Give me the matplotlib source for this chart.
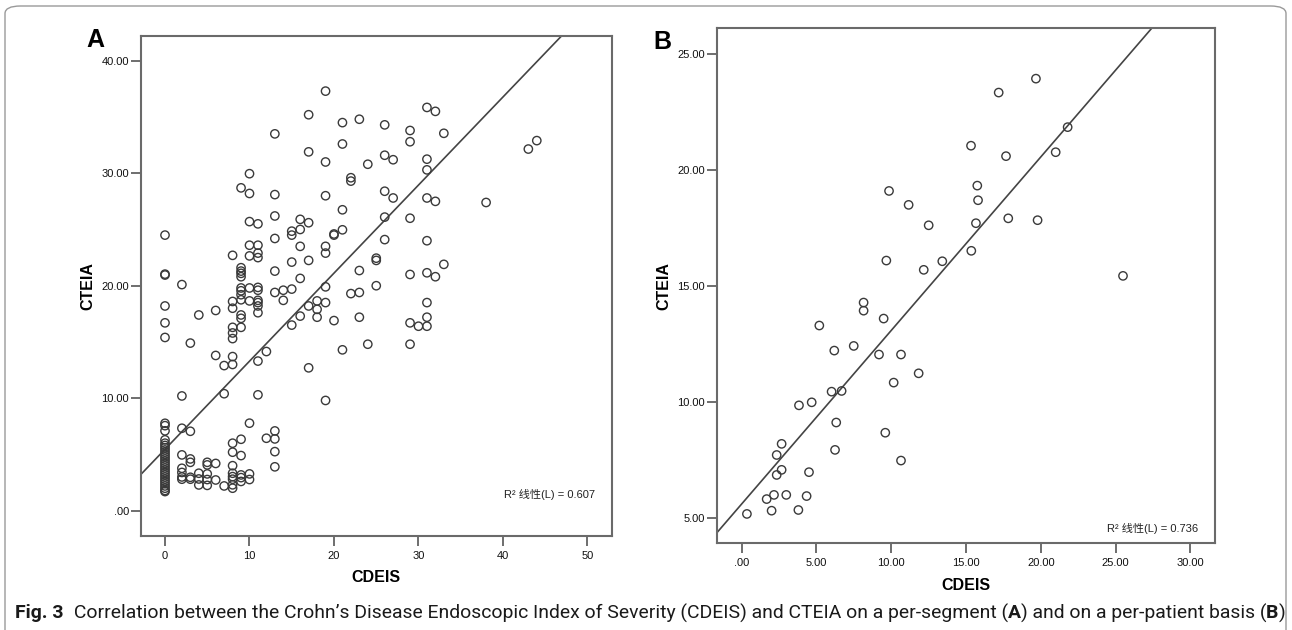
import matplotlib
matplotlib.use("Agg")
import matplotlib.pyplot as plt
import numpy as np
from matplotlib import font_manager
from matplotlib.patches import FancyBboxPatch
from matplotlib.ticker import FuncFormatter

# ---------------- Panel A data (per segment) ----------------
cdeis_a = [
    0, 19, 17, 21, 23, 26, 29, 29, 31, 32, 33, 13, 17, 21, 19, 24, 26, 27, 31, 31,
    10, 9, 10, 13, 19, 22, 22, 26, 27, 31, 32, 38, 43, 44, 21, 10, 11, 13, 16, 17,
    16, 15, 15, 20, 20, 21, 26, 29, 26, 31, 10, 11, 13, 16, 19,
    0, 0, 0, 0, 0, 2, 3, 4, 6, 6, 7, 7, 2, 8, 8, 8, 8, 8, 8, 8, 8,
    9, 9, 9, 9, 9, 9, 9, 9, 9, 9, 9, 10, 10, 10, 11, 11, 11, 11, 11, 11, 11, 11,
    11, 11, 12, 13, 13, 14, 14, 15, 15, 16, 15, 16, 17, 17, 17, 18, 18, 18,
    19, 19, 19, 19, 20, 21, 22, 23, 23, 23, 24, 25, 25, 25, 29, 29, 29, 30,
    31, 31, 31, 31, 32, 33,
    0, 0, 0, 0, 0, 0, 0, 0, 0, 0, 0, 0, 0, 0, 0, 0, 0, 0, 0, 0, 0, 0, 0, 0, 0, 0, 0,
    2, 3, 2, 3, 3, 2, 2, 2, 2, 3, 3, 4, 4, 4, 5, 5, 5, 5, 5, 6, 6, 7,
    8, 8, 8, 8, 8, 8, 8, 8, 9, 9, 9, 9, 9, 10, 10, 10, 12, 13, 13, 13, 13,
]
cteia_a = [
    24.5, 37.3, 35.2, 34.5, 34.8, 34.3, 33.8, 32.8, 35.85, 35.5, 33.55, 33.5, 31.9, 32.6, 31.0, 30.8, 31.6, 31.2, 31.25, 30.3,
    29.96, 28.7, 28.2, 28.1, 28.0, 29.6, 29.3, 28.4, 27.8, 27.8, 27.5, 27.4, 32.15, 32.9, 26.75, 25.7, 25.5, 26.2, 25.9, 25.6,
    25.0, 24.85, 24.5, 24.6, 24.5, 24.97, 26.1, 26.0, 24.1, 24.0, 23.6, 23.6, 24.2, 23.5, 23.5,
    21.03, 20.95, 18.2, 16.7, 15.4, 20.1, 14.9, 17.4, 17.8, 13.8, 12.9, 10.4, 10.2, 22.7, 18.6, 18.0, 16.3, 15.8, 15.3, 13.7, 13.0,
    21.6, 21.3, 21.1, 20.8, 19.8, 19.55, 19.2, 18.75, 17.4, 17.1, 16.3, 22.65, 19.8, 18.65, 22.9, 22.5, 19.85, 19.6, 18.7, 18.5, 18.2, 17.6,
    10.3, 13.3, 14.15, 21.3, 19.4, 18.7, 19.6, 19.7, 22.1, 20.65, 16.5, 17.3, 22.25, 18.2, 12.7, 18.65, 17.9, 17.2,
    22.9, 19.9, 18.5, 9.8, 16.9, 14.3, 19.3, 21.35, 19.4, 17.2, 14.8, 22.45, 22.25, 20.0, 21.0, 16.7, 14.8, 16.4,
    21.15, 18.5, 17.2, 16.4, 20.8, 21.9,
    7.77, 7.56, 7.1, 6.3, 6.0, 5.8, 5.6, 5.4, 5.2, 5.0, 4.8, 4.6, 4.4, 4.2, 4.0, 3.8, 3.6, 3.4, 3.2, 3.0, 2.8, 2.6, 2.4, 2.2, 2.0, 1.8, 1.7,
    7.33, 7.06, 4.96, 4.6, 4.3, 3.77, 3.4, 3.0, 2.8, 2.97, 2.8, 3.33, 2.82, 2.29, 4.3, 4.07, 3.27, 2.77, 2.25, 4.2, 2.73, 2.2,
    6.0, 5.2, 4.0, 3.33, 3.03, 2.8, 2.3, 2.0, 6.35, 4.9, 3.18, 2.94, 2.6, 7.78, 3.27, 2.77, 6.44, 7.09, 6.38, 5.25, 3.9,
]
fit_a_intercept = 5.46
fit_a_slope = 0.783
r2_a = "0.607"
xticks_a = [0, 10, 20, 30, 40, 50]
yticks_a = [0, 10, 20, 30, 40]

# ---------------- Panel B data (per patient) ----------------
cdeis_b = [
    0.35, 1.67, 2.0, 2.16, 2.98, 3.79, 4.34, 2.34, 2.67, 4.5, 2.34, 2.67, 3.83, 4.68, 6.24, 6.32,
    6.01, 6.68, 5.19, 6.19, 7.49, 8.15, 8.15, 9.18, 9.49, 9.6, 10.65, 10.16, 10.65, 11.83,
    9.67, 9.85, 11.16, 12.17, 12.5, 13.41, 15.35, 15.33, 15.66, 15.8, 15.75, 17.18, 17.67,
    17.82, 19.67, 19.78, 20.99, 21.79, 25.49,
]
cteia_b = [
    5.16, 5.8, 5.3, 5.98, 5.98, 5.33, 5.93, 6.84, 7.06, 6.96, 7.7, 8.18, 9.84, 9.97, 7.92, 9.1,
    10.43, 10.46, 13.28, 12.2, 12.4, 14.27, 13.92, 12.03, 13.58, 8.66, 7.46, 10.82, 12.03, 11.22,
    16.08, 19.08, 18.48, 15.68, 17.6, 16.05, 16.5, 21.03, 17.69, 18.68, 19.31, 23.32, 20.58,
    17.9, 23.92, 17.82, 20.75, 21.83, 15.42,
]
fit_b_intercept = 5.59
fit_b_slope = 0.748
r2_b = "0.736"
xticks_b = [0, 5, 10, 15, 20, 25, 30]
yticks_b = [5, 10, 15, 20, 25]

W, H = 1292, 630
fig = plt.figure(figsize=(W / 100, H / 100), dpi=100)
fig.patch.set_facecolor("white")

LAB = ["Liberation Sans", "DejaVu Sans"]
CJK = ["Liberation Sans", "Noto Sans CJK SC", "DejaVu Sans"]
edge = "#3a3a3a"
spine_c = "#6a6a6a"


def fx(px):
    return px / W


def fy(py):
    return 1 - py / H


def spss_fmt(v, pos=None):
    s = f"{v:.2f}"
    if s.startswith("0."):
        s = s[1:]
    if s.startswith("-0."):
        s = "-" + s[2:]
    return s


def style_axes(ax):
    for sp in ax.spines.values():
        sp.set_color(spine_c)
        sp.set_linewidth(1.5)
    ax.tick_params(direction="out", length=7, width=1.2, color="#555555",
                   labelsize=8, labelcolor="#111111", top=False, right=False)
    ax.tick_params(axis="x", pad=4)
    ax.tick_params(axis="y", pad=1.5)
    for lab in ax.get_xticklabels() + ax.get_yticklabels():
        lab.set_family(LAB)


# ---------- Panel A ----------
axA = fig.add_axes([fx(141), fy(536), 471 / W, 500 / H])
axA.scatter(cdeis_a, cteia_a, s=36, facecolors="none", edgecolors=edge, linewidths=1.0, zorder=3)
xlA = (-2.84, 52.9)
xx = np.array(xlA)
axA.plot(xx, fit_a_intercept + fit_a_slope * xx, color="#444444", lw=1.2, zorder=2)
axA.set_xlim(*xlA)
axA.set_ylim(-2.25, 42.2)
axA.set_xticks(xticks_a)
axA.set_yticks(yticks_a)
axA.yaxis.set_major_formatter(FuncFormatter(spss_fmt))
axA.xaxis.set_major_formatter(FuncFormatter(lambda v, p: f"{int(round(v))}"))
style_axes(axA)

# ---------- Panel B ----------
axB = fig.add_axes([fx(716.7), fy(542.7), 498.3 / W, 514.4 / H])
axB.scatter(cdeis_b, cteia_b, s=36, facecolors="none", edgecolors=edge, linewidths=1.0, zorder=3)
xlB = (-1.67, 31.64)
xx = np.array(xlB)
axB.plot(xx, fit_b_intercept + fit_b_slope * xx, color="#444444", lw=1.2, zorder=2)
axB.set_xlim(*xlB)
axB.set_ylim(3.92, 26.09)
axB.set_xticks(xticks_b)
axB.set_yticks(yticks_b)
axB.xaxis.set_major_formatter(FuncFormatter(spss_fmt))
axB.yaxis.set_major_formatter(FuncFormatter(spss_fmt))
style_axes(axB)

# ---------- labels ----------
fig.text(fx(95), fy(40), "A", fontsize=18, fontweight="bold", family=LAB, ha="center", va="center")
fig.text(fx(662), fy(42), "B", fontsize=18, fontweight="bold", family=LAB, ha="center", va="center")

fig.text(fx(376), fy(578), "CDEIS", fontsize=11.5, fontweight="bold", family=LAB, ha="center", va="center")
fig.text(fx(966), fy(586), "CDEIS", fontsize=11.5, fontweight="bold", family=LAB, ha="center", va="center")
fig.text(fx(88), fy(286), "CTEIA", fontsize=11.5, fontweight="bold", family=LAB, ha="center", va="center", rotation=90)
fig.text(fx(664), fy(286), "CTEIA", fontsize=11.5, fontweight="bold", family=LAB, ha="center", va="center", rotation=90)

fig.text(fx(595), fy(495), "R² 线性(L) = " + r2_a, fontsize=8, family=CJK, ha="right", va="center", color="#222222")
fig.text(fx(1198), fy(528), "R² 线性(L) = " + r2_b, fontsize=8, family=CJK, ha="right", va="center", color="#222222")

# ---------- outer border ----------
border = FancyBboxPatch((fx(5), fy(640)), fx(1281), (640 - 6) / H,
                        boxstyle="round,pad=0,rounding_size=0.012",
                        transform=fig.transFigure, facecolor="none",
                        edgecolor="#9a9a9a", lw=1.0)
fig.patches.append(border)

# ---------- caption ----------
def pick_family(cands):
    for c in cands:
        try:
            font_manager.findfont(font_manager.FontProperties(family=c), fallback_to_default=False)
            return c
        except Exception:
            continue
    return "DejaVu Sans"


cap_fam = pick_family(["Roboto", "Open Sans", "Noto Sans"])
pieces = [
    ("Fig. 3", "bold"),
    ("\u2002Correlation between the Crohn\u2019s Disease Endoscopic Index of Severity (CDEIS) and CTEIA on a per-segment (", "normal"),
    ("A", "bold"),
    (") and on a per-patient basis (", "normal"),
    ("B", "bold"),
    (")", "normal"),
]
cap_left, cap_right, cap_y = 15, 1284, 613
fig.canvas.draw()
renderer = fig.canvas.get_renderer()


def draw_caption(size):
    arts = []
    x = cap_left
    for txt, wt in pieces:
        t = fig.text(fx(x), fy(cap_y), txt, fontsize=size, fontweight=wt,
                     family=[cap_fam, "DejaVu Sans"], ha="left", va="center", color="#1a1a1a")
        bb = t.get_window_extent(renderer)
        x = bb.x1
        arts.append(t)
    return arts, x - cap_left


size = 12.0
for _ in range(4):
    arts, width = draw_caption(size)
    if abs(width - (cap_right - cap_left)) < 2:
        break
    for a in arts:
        a.remove()
    size = size * (cap_right - cap_left) / width

fig.savefig("out.png", dpi=100, facecolor="white")
